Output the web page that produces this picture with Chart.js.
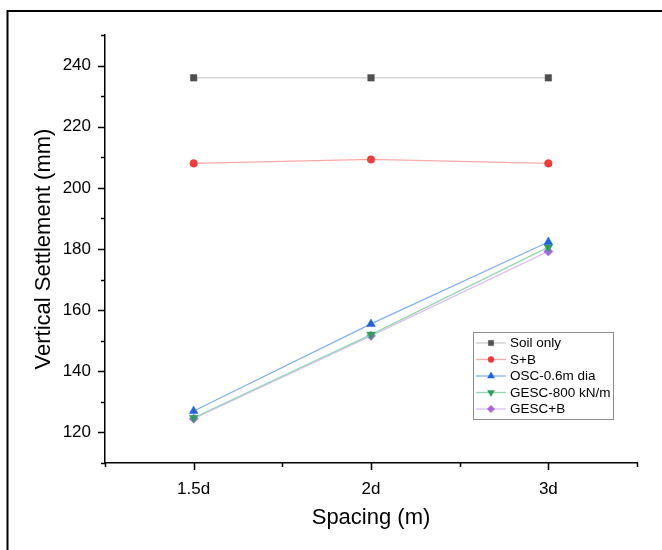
<!DOCTYPE html>
<html>
<head>
<meta charset="utf-8">
<script src="https://cdn.jsdelivr.net/npm/chart.js@4/dist/chart.umd.min.js"></script>
<style>
  html, body { margin: 0; padding: 0; background: #fff; }
  #wrap { width: 662px; height: 550px; }
</style>
</head>
<body>
<div id="wrap"><canvas id="chart" width="662" height="550"></canvas></div>
<script>
// Spacing cases along the x axis
const categories = ['1.5d', '2d', '3d'];

// Vertical settlement (mm) for each treatment
const soilOnly = [236, 236, 236];
const soilBerm = [208, 209.3, 208];
const osc06 = [127, 155.5, 182.3];
const gesc800 = [124.8, 152, 180.6];
const gescBerm = [124.5, 151.6, 179.2];

const seriesNames = ['Soil only', 'S+B', 'OSC-0.6m dia', 'GESC-800 kN/m', 'GESC+B'];

// Y axis range and tick steps
const yMin = 110, yMax = 250, yMajor = 20, yMinor = 10;

const FONT = '"Liberation Sans", Arial, sans-serif';

// White page with a frame line along the top and left
const pageFrame = {
  id: 'pageFrame',
  beforeDraw(chart) {
    const ctx = chart.ctx;
    ctx.save();
    ctx.fillStyle = '#fff';
    ctx.fillRect(0, 0, chart.width, chart.height);
    ctx.strokeStyle = '#000';
    ctx.lineWidth = 2;
    ctx.beginPath();
    ctx.moveTo(7.5, chart.height);
    ctx.lineTo(7.5, 11);
    ctx.lineTo(chart.width, 11);
    ctx.stroke();
    ctx.restore();
  }
};

// Outward major/minor tick marks on both axes
const axisTicks = {
  id: 'axisTicks',
  afterDraw(chart) {
    const { ctx, scales: { x, y } } = chart;
    ctx.save();
    ctx.strokeStyle = '#000';
    ctx.lineWidth = 1.5;
    ctx.beginPath();
    for (let v = yMin; v <= yMax; v += yMinor) {
      const py = Math.round(y.getPixelForValue(v)) + 0.5;
      const len = (v % yMajor === 0) ? 7 : 4;
      ctx.moveTo(x.left - len, py);
      ctx.lineTo(x.left, py);
    }
    const n = categories.length;
    const band = (x.right - x.left) / n;
    for (let i = 0; i < n; i++) {
      const px = Math.round(x.getPixelForValue(i)) + 0.5;
      ctx.moveTo(px, x.top);
      ctx.lineTo(px, x.top + 7);
    }
    for (let i = 0; i <= n; i++) {
      const px = Math.round(x.left + band * i) + 0.5;
      ctx.moveTo(px, x.top);
      ctx.lineTo(px, x.top + 4);
    }
    ctx.stroke();
    ctx.restore();
  }
};

// Boxed legend inside the plot, built from the datasets
const boxLegend = {
  id: 'boxLegend',
  afterDraw(chart, args, opts) {
    const ctx = chart.ctx;
    const { left, top, width, height, rowStart, rowStep } = opts;
    ctx.save();
    ctx.fillStyle = '#fff';
    ctx.fillRect(left, top, width, height);
    ctx.strokeStyle = '#8c8c8c';
    ctx.lineWidth = 1;
    ctx.strokeRect(left + 0.5, top + 0.5, width, height);
    chart.data.datasets.forEach((ds, i) => {
      const cy = rowStart + i * rowStep;
      ctx.strokeStyle = ds.borderColor;
      ctx.lineWidth = 1.3;
      ctx.beginPath();
      ctx.moveTo(left + 3, cy);
      ctx.lineTo(left + 33, cy);
      ctx.stroke();
      ctx.fillStyle = ds.pointBackgroundColor;
      ctx.strokeStyle = ds.pointBackgroundColor;
      ctx.lineWidth = 0.5;
      Chart.helpers.drawPoint(ctx, {
        pointStyle: ds.pointStyle,
        rotation: ds.pointRotation || 0,
        radius: ds.pointRadius * 0.8,
        borderWidth: 0.5
      }, left + 18, cy);
      ctx.fillStyle = '#000';
      ctx.font = '13.5px ' + FONT;
      ctx.textBaseline = 'middle';
      ctx.textAlign = 'left';
      ctx.fillText(ds.label, left + 37, cy + 0.5);
    });
    ctx.restore();
  }
};

function series(label, data, line, mark, style, radius, rotation) {
  return {
    label, data,
    borderColor: line,
    borderWidth: 1.3,
    pointBackgroundColor: mark,
    pointBorderColor: mark,
    pointBorderWidth: 0.5,
    pointStyle: style,
    pointRadius: radius,
    pointRotation: rotation || 0,
    pointHoverRadius: radius,
    tension: 0,
    fill: false
  };
}

new Chart(document.getElementById('chart'), {
  type: 'line',
  data: {
    labels: categories,
    datasets: [
      series(seriesNames[0], soilOnly, '#cccccc', '#4f4f4f', 'rect', 4.6),
      series(seriesNames[1], soilBerm, '#f9aaaa', '#f23b3b', 'circle', 3.8),
      series(seriesNames[2], osc06, '#7fb0f2', '#1f63dd', 'triangle', 5),
      series(seriesNames[3], gesc800, '#93d8b0', '#2c9f5c', 'triangle', 5, 180),
      series(seriesNames[4], gescBerm, '#dcc0f4', '#a766e0', 'rectRot', 4.6)
    ]
  },
  options: {
    responsive: false,
    animation: false,
    devicePixelRatio: 1,
    layout: { padding: { left: 0, top: 35, right: 25, bottom: 0 } },
    plugins: {
      legend: { display: false },
      tooltip: { enabled: false },
      boxLegend: { left: 473, top: 332, width: 140, height: 87, rowStart: 343, rowStep: 16.5 }
    },
    scales: {
      x: {
        type: 'category',
        offset: true,
        grid: { display: true, drawOnChartArea: false, drawTicks: false },
        border: { display: true, color: '#000', width: 1.5 },
        ticks: { color: '#000', font: { family: FONT, size: 17 }, padding: 16, maxRotation: 0 },
        title: { display: true, text: 'Spacing (m)', color: '#000', font: { family: FONT, size: 22 }, padding: { top: 0, bottom: 19 } },
        afterFit(scale) { scale.height = 87; }
      },
      y: {
        type: 'linear',
        min: yMin,
        max: yMax,
        grid: { display: true, drawOnChartArea: false, drawTicks: false },
        border: { display: true, color: '#000', width: 1.5 },
        ticks: {
          stepSize: yMinor,
          color: '#000',
          font: { family: FONT, size: 17 },
          padding: 14,
          callback: (v) => (v % yMajor === 0 ? String(v) : '')
        },
        title: { display: true, text: 'Vertical Settlement (mm)', color: '#000', font: { family: FONT, size: 22 }, padding: { top: 31, bottom: 0 } },
        afterFit(scale) { scale.width = 105; }
      }
    }
  },
  plugins: [pageFrame, axisTicks, boxLegend]
});
</script>
</body>
</html>
